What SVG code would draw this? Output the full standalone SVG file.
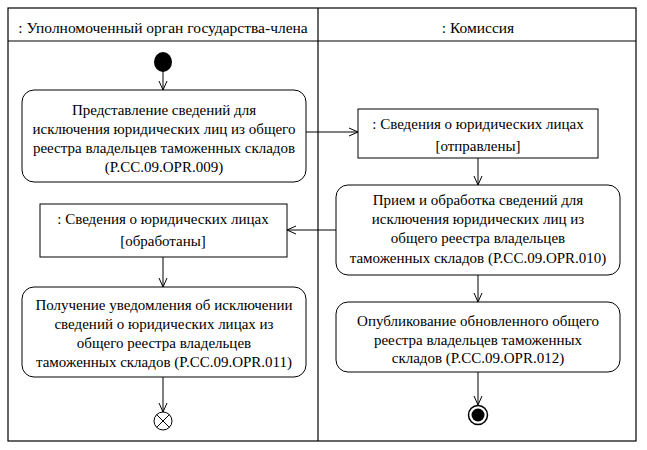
<svg xmlns="http://www.w3.org/2000/svg" width="647" height="450" viewBox="0 0 647 450">
<defs>
<marker id="arr" markerWidth="12" markerHeight="12" refX="10" refY="5" orient="auto" markerUnits="userSpaceOnUse">
<path d="M1,1 L10,5 L1,9" fill="none" stroke="#000" stroke-width="1"/>
</marker>
</defs>
<style>
text{font-family:"Times New Roman","Liberation Serif","DejaVu Serif",serif;font-size:15px;fill:#000;text-anchor:middle}
.hdr{font-size:15.5px}
.frame{fill:#fff;stroke:#000;stroke-width:1.2}
.act{fill:#fff;stroke:#000;stroke-width:1}
.obj{fill:#fff;stroke:#000;stroke-width:1}
.conn{fill:none;stroke:#000;stroke-width:1;marker-end:url(#arr)}
</style>
<rect width="647" height="450" fill="#fff"/>
<g id="frame">
<rect class="frame" x="8" y="8" width="628" height="433"/>
<line x1="8" y1="41" x2="636" y2="41" stroke="#000" stroke-width="1.2"/>
<line x1="318" y1="8" x2="318" y2="441" stroke="#000" stroke-width="1.2"/>
<text class="hdr" x="163" y="33">: Уполномоченный орган государства-члена</text>
<text class="hdr" x="478" y="33">: Комиссия</text>
</g>
<g id="connectors">
<line class="conn" x1="163" y1="71" x2="163" y2="90"/>
<line class="conn" x1="306" y1="132" x2="358" y2="132"/>
<line class="conn" x1="478" y1="158" x2="478" y2="185"/>
<line class="conn" x1="336" y1="230" x2="287" y2="230"/>
<line class="conn" x1="163" y1="257" x2="163" y2="287"/>
<line class="conn" x1="163" y1="377" x2="163" y2="412"/>
<line class="conn" x1="478" y1="275" x2="478" y2="302"/>
<line class="conn" x1="478" y1="372" x2="478" y2="405"/>
</g>
<g id="start">
<ellipse cx="163" cy="62" rx="9" ry="10" fill="#000"/>
</g>
<g id="act009">
<rect class="act" x="22" y="90" width="284" height="92" rx="12"/>
<text x="164" y="115">Представление сведений для</text>
<text x="164" y="134">исключения юридических лиц из общего</text>
<text x="164" y="153">реестра владельцев таможенных складов</text>
<text x="164" y="172">(P.CC.09.OPR.009)</text>
</g>
<g id="obj-sent">
<rect class="obj" x="358" y="109" width="240" height="49"/>
<text x="478" y="129">: Сведения о юридических лицах</text>
<text x="478" y="151">[отправлены]</text>
</g>
<g id="act010">
<rect class="act" x="336" y="185" width="284" height="90" rx="12"/>
<text x="478" y="205">Прием и обработка сведений для</text>
<text x="478" y="224">исключения юридических лиц из</text>
<text x="478" y="243">общего реестра владельцев</text>
<text x="478" y="263">таможенных складов (P.CC.09.OPR.010)</text>
</g>
<g id="obj-processed">
<rect class="obj" x="40" y="204" width="247" height="53"/>
<text x="163" y="224">: Сведения о юридических лицах</text>
<text x="163" y="246">[обработаны]</text>
</g>
<g id="act011">
<rect class="act" x="22" y="287" width="284" height="90" rx="12"/>
<text x="164" y="310">Получение уведомления об исключении</text>
<text x="164" y="329">сведений о юридических лицах из</text>
<text x="164" y="348">общего реестра владельцев</text>
<text x="164" y="367">таможенных складов (P.CC.09.OPR.011)</text>
</g>
<g id="flowfinal">
<circle cx="163" cy="421" r="9" fill="#fff" stroke="#000"/>
<line x1="156.6" y1="414.6" x2="169.4" y2="427.4" stroke="#000"/>
<line x1="169.4" y1="414.6" x2="156.6" y2="427.4" stroke="#000"/>
</g>
<g id="act012">
<rect class="act" x="336" y="302" width="284" height="70" rx="12"/>
<text x="478" y="326">Опубликование обновленного общего</text>
<text x="478" y="345">реестра владельцев таможенных</text>
<text x="478" y="363">складов (P.CC.09.OPR.012)</text>
</g>
<g id="final">
<circle cx="478" cy="415" r="9.5" fill="#fff" stroke="#000" stroke-width="1.5"/>
<circle cx="478" cy="415" r="6.5" fill="#000"/>
</g>
</svg>
